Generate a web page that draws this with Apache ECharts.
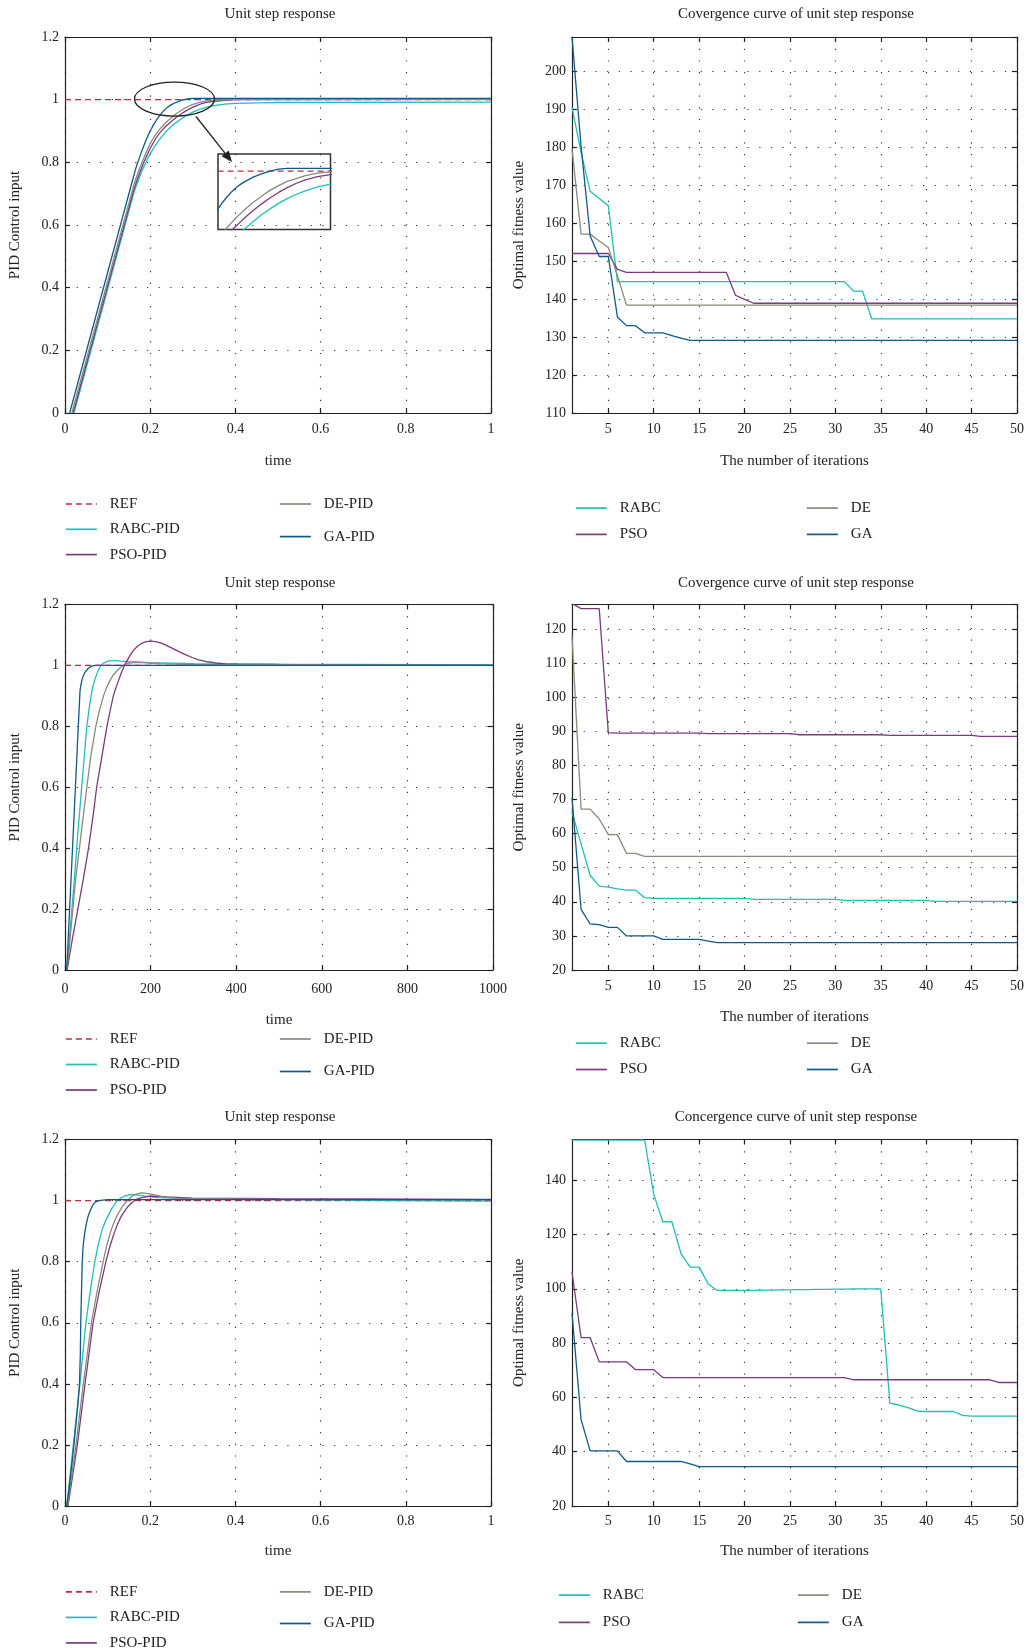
<!DOCTYPE html>
<html>
<head>
<meta charset="utf-8">
<title>Unit step response / convergence curves</title>
<script src="https://cdn.jsdelivr.net/npm/echarts@6/dist/echarts.min.js"></script>
<style>
  html, body { margin: 0; padding: 0; background: #fff; }
  #chart { width: 1029px; height: 1651px; }
</style>
</head>
<body>
<div id="chart"></div>
<script>
// ---------- data ----------
const stepNames = ["REF", "RABC-PID", "PSO-PID", "DE-PID", "GA-PID"];
const iterTicks = [5, 10, 15, 20, 25, 30, 35, 40, 45, 50];

// panel 1 : step response, time 0..1
const p1REF = [[0, 1], [1, 1]];
const p1RABC = [[0.021, 0], [0.16, 0.695], [0.165, 0.716], [0.17, 0.735], [0.175, 0.753], [0.18, 0.77], [0.185, 0.786], [0.19, 0.80], [0.195, 0.814], [0.2, 0.827], [0.205, 0.839], [0.21, 0.85], [0.215, 0.86], [0.22, 0.87], [0.225, 0.879], [0.23, 0.887], [0.235, 0.895], [0.24, 0.902], [0.245, 0.909], [0.25, 0.915], [0.26, 0.926], [0.27, 0.936], [0.28, 0.945], [0.29, 0.953], [0.3, 0.96], [0.31, 0.966], [0.32, 0.971], [0.335, 0.977], [0.35, 0.981], [0.375, 0.986], [0.4, 0.988], [0.45, 0.99], [0.5, 0.991], [1, 0.992]];
const p1PSO = [[0.019, 0], [0.16, 0.705], [0.165, 0.727], [0.17, 0.747], [0.175, 0.765], [0.18, 0.783], [0.185, 0.8], [0.19, 0.815], [0.195, 0.83], [0.2, 0.845], [0.205, 0.857], [0.21, 0.869], [0.215, 0.88], [0.22, 0.89], [0.225, 0.898], [0.23, 0.906], [0.235, 0.913], [0.24, 0.919], [0.245, 0.925], [0.25, 0.931], [0.26, 0.942], [0.27, 0.952], [0.28, 0.961], [0.29, 0.969], [0.3, 0.976], [0.31, 0.982], [0.32, 0.987], [0.335, 0.992], [0.35, 0.995], [0.375, 0.998], [0.4, 1.0], [1, 1.001]];
const p1DE = [[0.016, 0], [0.16, 0.72], [0.165, 0.742], [0.17, 0.762], [0.175, 0.78], [0.18, 0.797], [0.185, 0.814], [0.19, 0.83], [0.195, 0.845], [0.2, 0.86], [0.205, 0.872], [0.21, 0.883], [0.215, 0.893], [0.22, 0.902], [0.225, 0.91], [0.23, 0.917], [0.235, 0.924], [0.24, 0.931], [0.245, 0.937], [0.25, 0.943], [0.26, 0.954], [0.27, 0.963], [0.28, 0.972], [0.29, 0.979], [0.3, 0.985], [0.31, 0.989], [0.32, 0.993], [0.335, 0.997], [0.35, 0.999], [0.4, 1.001], [1, 1.001]];
const p1GA = [[0.011, 0], [0.16, 0.75], [0.165, 0.775], [0.17, 0.797], [0.175, 0.815], [0.18, 0.835], [0.185, 0.853], [0.19, 0.87], [0.195, 0.886], [0.2, 0.9], [0.205, 0.913], [0.21, 0.925], [0.215, 0.936], [0.22, 0.945], [0.225, 0.954], [0.23, 0.962], [0.235, 0.969], [0.24, 0.975], [0.245, 0.98], [0.25, 0.984], [0.26, 0.991], [0.27, 0.996], [0.28, 1.0], [0.29, 1.003], [0.3, 1.004], [1, 1.004]];

// panel 3 : step response, time 0..1000
const p3REF = [[0, 1], [1000, 1]];
const p3RABC = [[4, 0], [15, 0.18], [22, 0.3], [30, 0.45], [39, 0.6], [45, 0.7], [51, 0.8], [56, 0.855], [61, 0.9], [65, 0.93], [70, 0.955], [76, 0.978], [82, 0.995], [88, 1.005], [95, 1.011], [102, 1.015], [110, 1.016], [120, 1.016], [130, 1.014], [150, 1.012], [200, 1.009], [300, 1.006], [500, 1.004], [1000, 1.002]];
const p3PSO = [[5, 0], [17, 0.1], [30, 0.2], [43, 0.3], [55, 0.4], [65, 0.5], [74, 0.6], [86, 0.7], [98, 0.8], [106, 0.855], [113, 0.9], [119, 0.927], [125, 0.95], [132, 0.977], [139, 1.0], [150, 1.028], [160, 1.05], [170, 1.064], [180, 1.073], [190, 1.078], [200, 1.08], [212, 1.078], [225, 1.073], [237, 1.066], [250, 1.057], [265, 1.046], [280, 1.036], [297, 1.026], [313, 1.018], [332, 1.012], [352, 1.008], [375, 1.005], [400, 1.004], [600, 1.002], [1000, 1.0]];
const p3DE = [[5, 0], [15, 0.15], [25, 0.3], [38, 0.45], [51, 0.6], [60, 0.7], [72, 0.8], [80, 0.85], [90, 0.9], [97, 0.927], [105, 0.95], [112, 0.967], [120, 0.98], [127, 0.99], [133, 0.997], [140, 1.003], [150, 1.008], [165, 1.01], [180, 1.009], [220, 1.006], [300, 1.003], [1000, 1.0]];
const p3GA = [[4, 0], [35, 0.915], [37, 0.935], [40, 0.955], [44, 0.97], [48, 0.98], [54, 0.99], [60, 0.996], [67, 0.999], [75, 1.0], [1000, 1.0]];

// panel 5 : step response, time 0..1
const p5REF = [[0, 1], [1, 1]];
const p5RABC = [[0.004, 0], [0.0195, 0.2], [0.035, 0.4], [0.049, 0.6], [0.06, 0.71], [0.07, 0.8], [0.078, 0.855], [0.086, 0.9], [0.094, 0.93], [0.101, 0.95], [0.111, 0.977], [0.121, 0.997], [0.13, 1.008], [0.14, 1.015], [0.156, 1.02], [0.17, 1.018], [0.18, 1.016], [0.2, 1.012], [0.22, 1.01], [0.3, 1.006], [0.5, 1.003], [0.8, 1.0], [1, 0.998]];
const p5PSO = [[0.007, 0], [0.029, 0.2], [0.047, 0.4], [0.066, 0.6], [0.08, 0.7], [0.096, 0.8], [0.106, 0.853], [0.117, 0.9], [0.125, 0.928], [0.1325, 0.95], [0.146, 0.978], [0.16, 0.997], [0.17, 1.006], [0.18, 1.01], [0.2, 1.015], [0.22, 1.014], [0.24, 1.012], [0.3, 1.008], [0.5, 1.006], [1, 1.004]];
const p5DE = [[0.006, 0], [0.0257, 0.2], [0.043, 0.4], [0.062, 0.6], [0.075, 0.7], [0.0896, 0.8], [0.098, 0.853], [0.1075, 0.9], [0.115, 0.928], [0.122, 0.95], [0.133, 0.977], [0.144, 0.997], [0.155, 1.012], [0.165, 1.02], [0.175, 1.024], [0.183, 1.025], [0.195, 1.023], [0.205, 1.02], [0.23, 1.012], [0.26, 1.008], [0.3, 1.006], [0.5, 1.004], [1, 1.003]];
const p5GA = [[0.004, 0], [0.01, 0.06], [0.021, 0.2], [0.03, 0.33], [0.034, 0.4], [0.036, 0.5], [0.037, 0.6], [0.039, 0.72], [0.0405, 0.8], [0.042, 0.84], [0.044, 0.87], [0.047, 0.9], [0.051, 0.93], [0.0546, 0.95], [0.06, 0.97], [0.065, 0.985], [0.071, 0.995], [0.078, 1.0], [0.1, 1.003], [1, 1.003]];

// panel 2 : fitness per iteration (1..50)
const p2RABC = [190.5, 178.6, 168.4, 166.5, 164.6, 144.6, 144.6, 144.6, 144.6, 144.6,
  144.6, 144.6, 144.6, 144.6, 144.6, 144.6, 144.6, 144.6, 144.6, 144.6,
  144.6, 144.6, 144.6, 144.6, 144.6, 144.6, 144.6, 144.6, 144.6, 144.6,
  144.6, 142.1, 142.1, 134.8, 134.8, 134.8, 134.8, 134.8, 134.8, 134.8,
  134.8, 134.8, 134.8, 134.8, 134.8, 134.8, 134.8, 134.8, 134.8, 134.8];
const p2PSO = [152, 152, 152, 152, 152, 147.8, 147, 147, 147, 147,
  147, 147, 147, 147, 147, 147, 147, 147, 141, 139.9,
  138.9, 138.9, 138.9, 138.9, 138.9, 138.9, 138.9, 138.9, 138.9, 138.9,
  138.9, 138.9, 138.9, 138.9, 138.9, 138.9, 138.9, 138.9, 138.9, 138.9,
  138.9, 138.9, 138.9, 138.9, 138.9, 138.9, 138.9, 138.9, 138.9, 138.9];
const p2DE = [179.6, 157.1, 157.1, 155.3, 153.6, 146.2, 138.4, 138.4, 138.4, 138.4,
  138.4, 138.4, 138.4, 138.4, 138.4, 138.4, 138.4, 138.4, 138.4, 138.4,
  138.4, 138.4, 138.4, 138.4, 138.4, 138.4, 138.4, 138.4, 138.4, 138.4,
  138.4, 138.4, 138.4, 138.4, 138.4, 138.4, 138.4, 138.4, 138.4, 138.4,
  138.4, 138.4, 138.4, 138.4, 138.4, 138.4, 138.4, 138.4, 138.4, 138.4];
const p2GA = [209, 180.2, 156.6, 151.2, 151.2, 135.3, 133, 133, 131.1, 131.1,
  131.1, 130.4, 129.7, 129.1, 129.1, 129.1, 129.1, 129.1, 129.1, 129.1,
  129.1, 129.1, 129.1, 129.1, 129.1, 129.1, 129.1, 129.1, 129.1, 129.1,
  129.1, 129.1, 129.1, 129.1, 129.1, 129.1, 129.1, 129.1, 129.1, 129.1,
  129.1, 129.1, 129.1, 129.1, 129.1, 129.1, 129.1, 129.1, 129.1, 129.1];

// panel 4
const p4RABC = [66.3, 57, 47.8, 44.6, 44.3, 43.8, 43.4, 43.4, 41.2, 41.0,
  41.0, 41.0, 41.0, 41.0, 41.0, 41.0, 41.0, 41.0, 41.0, 41.0,
  40.7, 40.7, 40.7, 40.7, 40.7, 40.7, 40.7, 40.7, 40.7, 40.7,
  40.4, 40.4, 40.4, 40.4, 40.4, 40.4, 40.4, 40.4, 40.4, 40.4,
  40.1, 40.1, 40.1, 40.1, 40.1, 40.1, 40.1, 40.1, 40.1, 40.1];
const p4PSO = [127.5, 126, 126, 126, 89.6, 89.5, 89.5, 89.5, 89.5, 89.5,
  89.5, 89.5, 89.5, 89.5, 89.5, 89.3, 89.3, 89.3, 89.3, 89.3,
  89.3, 89.3, 89.3, 89.3, 89.3, 89.0, 89.0, 89.0, 89.0, 89.0,
  89.0, 89.0, 89.0, 89.0, 89.0, 88.8, 88.8, 88.8, 88.8, 88.8,
  88.8, 88.8, 88.8, 88.8, 88.8, 88.5, 88.5, 88.5, 88.5, 88.5];
const p4DE = [118, 67.2, 67.2, 64.3, 59.7, 59.7, 54.2, 54.2, 53.3, 53.3,
  53.3, 53.3, 53.3, 53.3, 53.3, 53.3, 53.3, 53.3, 53.3, 53.3,
  53.3, 53.3, 53.3, 53.3, 53.3, 53.3, 53.3, 53.3, 53.3, 53.3,
  53.3, 53.3, 53.3, 53.3, 53.3, 53.3, 53.3, 53.3, 53.3, 53.3,
  53.3, 53.3, 53.3, 53.3, 53.3, 53.3, 53.3, 53.3, 53.3, 53.3];
const p4GA = [70.5, 37.8, 33.5, 33.3, 32.5, 32.5, 30, 30, 30, 30,
  29, 29, 29, 29, 29, 28.5, 28, 28, 28, 28,
  28, 28, 28, 28, 28, 28, 28, 28, 28, 28,
  28, 28, 28, 28, 28, 28, 28, 28, 28, 28,
  28, 28, 28, 28, 28, 28, 28, 28, 28, 28];

// panel 6 (DE is not visible in this panel)
const p6RABC = [154.8, 154.8, 154.8, 154.8, 154.8, 154.8, 154.8, 154.8, 154.8, 134.8,
  124.7, 124.7, 113, 108, 108, 101.8, 99.4, 99.4, 99.4, 99.4,
  99.4, 99.5, 99.5, 99.6, 99.6, 99.7, 99.7, 99.8, 99.8, 99.9,
  99.9, 100, 100, 100, 100, 57.9, 57.2, 56.2, 55, 54.8,
  54.8, 54.8, 54.8, 53.4, 53.1, 53.1, 53.1, 53.1, 53.1, 53.1];
const p6PSO = [106.2, 82, 82, 73.1, 73.1, 73.1, 73.1, 70.2, 70.2, 70.2,
  67.3, 67.3, 67.3, 67.3, 67.3, 67.3, 67.3, 67.3, 67.3, 67.3,
  67.3, 67.3, 67.3, 67.3, 67.3, 67.3, 67.3, 67.3, 67.3, 67.3,
  67.3, 66.5, 66.5, 66.5, 66.5, 66.5, 66.5, 66.5, 66.5, 66.5,
  66.5, 66.5, 66.5, 66.5, 66.5, 66.5, 66.5, 65.5, 65.5, 65.5];
const p6GA = [91, 51.8, 40.3, 40.3, 40.3, 40.3, 36.4, 36.4, 36.4, 36.4,
  36.4, 36.4, 36.4, 35.5, 34.5, 34.5, 34.5, 34.5, 34.5, 34.5,
  34.5, 34.5, 34.5, 34.5, 34.5, 34.5, 34.5, 34.5, 34.5, 34.5,
  34.5, 34.5, 34.5, 34.5, 34.5, 34.5, 34.5, 34.5, 34.5, 34.5,
  34.5, 34.5, 34.5, 34.5, 34.5, 34.5, 34.5, 34.5, 34.5, 34.5];

// ---------- styling ----------
const FONT = '"Liberation Serif", "DejaVu Serif", serif';
const INK = "#222";
const colors = {
  REF: "#c8283e", RABC: "#22bfb5", PSO: "#7b3b7b", DE: "#8a8a7a", GA: "#0e5a8a"
};

let chart = echarts.init(document.getElementById("chart"));

const grids = [
  { left: 65, top: 37, width: 426, height: 376 },
  { left: 572, top: 37, width: 445, height: 376 },
  { left: 65, top: 604.5, width: 428, height: 365.5 },
  { left: 572, top: 604.5, width: 445, height: 365.5 },
  { left: 65, top: 1139.5, width: 426, height: 366.5 },
  { left: 572, top: 1139.5, width: 445, height: 366.5 },
  { left: 218, top: 154, width: 112.5, height: 75.5 } // zoom inset of panel 1
];

const lineSt = { color: INK, width: 1.2 };
const dotted = { color: "#333", width: 1.2, type: [1.2, 10.5] };
const plain = v => String(v);

function xAxes(gi, o) {
  let bottom = {
    gridIndex: gi, type: "value", position: "bottom", min: o.min, max: o.max,
    name: o.name, nameLocation: "middle", nameGap: o.nameGap,
    nameTextStyle: { fontFamily: FONT, fontSize: 15, color: INK },
    axisLine: { show: true, onZero: false, lineStyle: lineSt },
    axisTick: { inside: true, length: 5, lineStyle: lineSt },
    axisLabel: { fontFamily: FONT, fontSize: 14, color: INK, margin: o.margin, formatter: plain },
    splitLine: { show: true, lineStyle: dotted }
  };
  if (o.interval) bottom.interval = o.interval;
  if (o.custom) {
    bottom.axisTick.customValues = o.custom;
    bottom.axisLabel.customValues = o.custom;
  }
  let top = echarts.util.clone(bottom);
  top.position = "top";
  top.name = "";
  top.axisLabel = { show: false };
  top.splitLine = { show: false };
  return [bottom, top];
}

function yAxes(gi, o) {
  let left = {
    gridIndex: gi, type: "value", position: "left", min: o.min, max: o.max, interval: o.interval,
    name: o.name, nameLocation: "middle", nameGap: o.nameGap,
    nameTextStyle: { fontFamily: FONT, fontSize: 15, color: INK },
    axisLine: { show: true, onZero: false, lineStyle: lineSt },
    axisTick: { inside: true, length: 5, lineStyle: lineSt },
    axisLabel: { fontFamily: FONT, fontSize: 14, color: INK, margin: 6, showMaxLabel: o.showMax, formatter: plain },
    splitLine: { show: true, lineStyle: dotted }
  };
  let right = echarts.util.clone(left);
  right.position = "right";
  right.name = "";
  right.axisLabel = { show: false };
  right.splitLine = { show: false };
  return [left, right];
}

const stepY = (gi, gap) => yAxes(gi, { min: 0, max: 1.2, interval: 0.2, name: "PID Control input", nameGap: gap, showMax: true });

let xAxis = [].concat(
  xAxes(0, { min: 0, max: 1, interval: 0.2, name: "time", nameGap: 41, margin: 9 }),
  xAxes(1, { min: 1, max: 50, custom: iterTicks, name: "The number of iterations", nameGap: 41, margin: 9 }),
  xAxes(2, { min: 0, max: 1000, interval: 200, name: "time", nameGap: 43, margin: 12 }),
  xAxes(3, { min: 1, max: 50, custom: iterTicks, name: "The number of iterations", nameGap: 40, margin: 9 }),
  xAxes(4, { min: 0, max: 1, interval: 0.2, name: "time", nameGap: 38, margin: 8 }),
  xAxes(5, { min: 1, max: 50, custom: iterTicks, name: "The number of iterations", nameGap: 38, margin: 8 }),
  [{ gridIndex: 6, type: "value", min: 0.22, max: 0.35, show: false }]
);
let yAxis = [].concat(
  stepY(0, 42),
  yAxes(1, { min: 110, max: 209, interval: 10, name: "Optimal fitness value", nameGap: 45, showMax: false }),
  stepY(2, 42),
  yAxes(3, { min: 20, max: 127.2, interval: 10, name: "Optimal fitness value", nameGap: 45, showMax: false }),
  stepY(4, 42),
  yAxes(5, { min: 20, max: 155, interval: 20, name: "Optimal fitness value", nameGap: 45, showMax: false }),
  [{ gridIndex: 6, type: "value", min: 0.915, max: 1.025, show: false }]
);

function stepLine(name, key, data, axis) {
  return {
    type: "line", name: name, data: data, xAxisIndex: axis, yAxisIndex: axis,
    symbol: "none",
    lineStyle: { color: colors[key], width: 1.3, type: key === "REF" ? [6, 4] : "solid" },
    itemStyle: { color: colors[key] }, animation: false
  };
}
function convLine(key, values, gi) {
  return {
    type: "line", name: key, data: values.map((v, i) => [i + 1, v]),
    xAxisIndex: 2 * gi, yAxisIndex: 2 * gi, symbol: "none",
    lineStyle: { color: colors[key], width: 1.3 },
    itemStyle: { color: colors[key] }, animation: false
  };
}

const stepKeys = ["REF", "RABC", "PSO", "DE", "GA"];
let series = [];
function stepPanel(axis, list) {
  list.forEach((d, i) => series.push(stepLine(stepNames[i], stepKeys[i], d, axis)));
}
stepPanel(0, [p1REF, p1RABC, p1PSO, p1DE, p1GA]);
stepPanel(4, [p3REF, p3RABC, p3PSO, p3DE, p3GA]);
stepPanel(8, [p5REF, p5RABC, p5PSO, p5DE, p5GA]);
stepPanel(12, [p1REF, p1RABC, p1PSO, p1DE, p1GA]); // inset: same curves, zoomed scale
series.push(convLine("RABC", p2RABC, 1), convLine("PSO", p2PSO, 1), convLine("DE", p2DE, 1), convLine("GA", p2GA, 1));
series.push(convLine("RABC", p4RABC, 3), convLine("PSO", p4PSO, 3), convLine("DE", p4DE, 3), convLine("GA", p4GA, 3));
series.push(convLine("RABC", p6RABC, 5), convLine("PSO", p6PSO, 5), convLine("GA", p6GA, 5));

function titleAt(text, x, y) {
  return { text: text, left: x, top: y, textAlign: "center", padding: 0,
    textStyle: { fontFamily: FONT, fontSize: 15, fontWeight: "normal", color: INK } };
}
let title = [
  titleAt("Unit step response", 280, 7),
  titleAt("Covergence curve of unit step response", 796, 7),
  titleAt("Unit step response", 280, 576),
  titleAt("Covergence curve of unit step response", 796, 576),
  titleAt("Unit step response", 280, 1110),
  titleAt("Concergence curve of unit step response", 796, 1110)
];

function legendCol(names, x, y, gap) {
  return {
    orient: "vertical", left: x, top: y, padding: 0,
    itemWidth: 31, itemHeight: 14, itemGap: gap,
    data: names, selectedMode: false,
    itemStyle: { color: "rgba(0,0,0,0)", borderWidth: 0, opacity: 0 },
    lineStyle: { width: 1.7 },
    textStyle: { fontFamily: FONT, fontSize: 15, color: INK, lineHeight: 14, padding: [0, 0, 0, 8] }
  };
}
let legend = [
  legendCol(["REF", "RABC-PID", "PSO-PID"], 65, 496.5, 10.3),
  legendCol(["DE-PID", "GA-PID"], 279, 496.5, 17.6),
  legendCol(["RABC", "PSO"], 575, 500.6, 11.3),
  legendCol(["DE", "GA"], 806, 500.6, 11.3),
  legendCol(["REF", "RABC-PID", "PSO-PID"], 65, 1031.5, 10.5),
  legendCol(["DE-PID", "GA-PID"], 279, 1031.5, 17.5),
  legendCol(["RABC", "PSO"], 575, 1035.7, 11.3),
  legendCol(["DE", "GA"], 806, 1035.7, 11.3),
  legendCol(["REF", "RABC-PID", "PSO-PID"], 65, 1584.4, 10.5),
  legendCol(["DE-PID", "GA-PID"], 279, 1584.4, 16.6),
  legendCol(["RABC", "PSO"], 558, 1587.6, 12.3),
  legendCol(["DE", "GA"], 797, 1587.6, 12.3)
];

let gridOpt = grids.map((g, i) => i === 6
  ? Object.assign({ show: true, borderColor: "#333", borderWidth: 1.5, backgroundColor: "rgba(255,255,255,0)" }, g)
  : g);

chart.setOption({
  backgroundColor: "#fff",
  animation: false,
  title: title,
  legend: legend,
  grid: gridOpt,
  xAxis: xAxis,
  yAxis: yAxis,
  series: series
});

// ellipse around the settling region and the arrow to the inset
const c = chart.convertToPixel({ gridIndex: 0 }, [0.257, 1.002]);
const tail = [196, 116.5], tip = [232, 162];
const dx = tip[0] - tail[0], dy = tip[1] - tail[1], len = Math.sqrt(dx * dx + dy * dy);
const ux = dx / len, uy = dy / len;
const bx = tip[0] - 11 * ux, by = tip[1] - 11 * uy;
chart.setOption({
  graphic: [
    { type: "ellipse", shape: { cx: c[0], cy: c[1], rx: 40, ry: 17 },
      style: { fill: "none", stroke: "#222", lineWidth: 1.3 }, z: 100 },
    { type: "line", shape: { x1: tail[0], y1: tail[1], x2: bx, y2: by },
      style: { stroke: "#222", lineWidth: 1.3 }, z: 100 },
    { type: "polygon", shape: { points: [tip, [bx - 4.5 * uy, by + 4.5 * ux], [bx + 4.5 * uy, by - 4.5 * ux]] },
      style: { fill: "#222" }, z: 100 }
  ]
});
</script>
</body>
</html>
